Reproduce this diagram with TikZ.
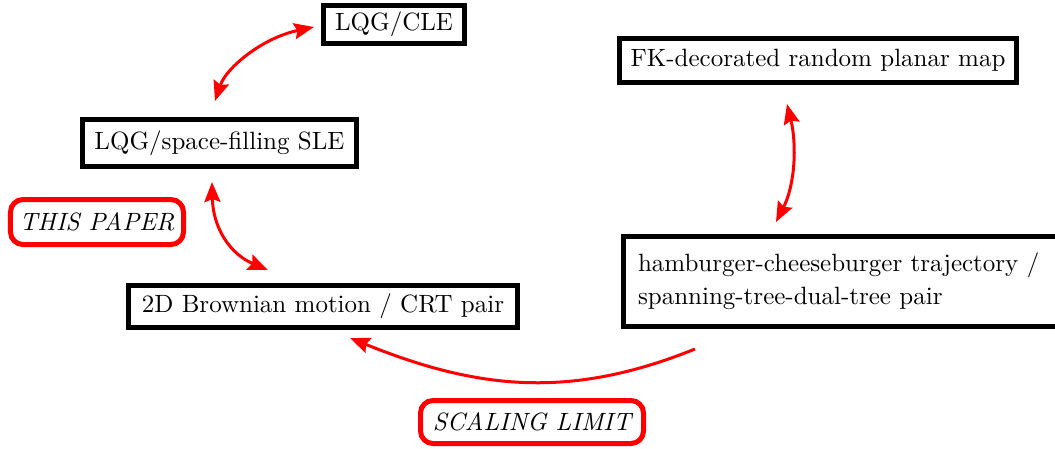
\documentclass[tikz,border=0pt]{standalone}
\usetikzlibrary{arrows.meta}
\begin{document}
\begin{tikzpicture}[x=0.4pt,y=-0.4pt,
  blackbox/.style={draw=black,line width=2pt,inner sep=2pt,rectangle},
  redbox/.style={draw=red,line width=2pt,rounded corners=5pt,inner sep=2pt,font=\itshape},
  redtip/.tip={Stealth[length=8pt,width=6.4pt,inset=1.2pt]},
  redarrow/.style={draw=red,line width=1.2pt,-redtip},
  biarrow/.style={draw=red,line width=1.2pt,redtip-redtip}]
\useasboundingbox (0,0) rectangle (1055,448);
\node[blackbox,minimum width=56.4pt,minimum height=15.2pt] (cle) at (394,24.5) {LQG/CLE};
\node[blackbox,minimum width=109.6pt,minimum height=18.8pt] (sle) at (219.5,143) {LQG/space-filling SLE};
\node[blackbox,minimum width=155.6pt,minimum height=16.8pt] (bm) at (323,306.5) {2D Brownian motion / CRT pair};
\node[blackbox,minimum width=158.8pt,minimum height=17.6pt] (fk) at (818,60.5) {FK-decorated random planar map};
\node[blackbox,anchor=west,inner xsep=5.8pt,minimum height=36pt,text width=165.2pt,align=left] (hc) at (621,281.5)
  {hamburger-cheeseburger trajectory /\\[1.2pt]spanning-tree-dual-tree pair};
\node[redbox,minimum width=69.2pt,minimum height=18pt] (tp) at (97,222) {THIS PAPER};
\node[redbox,minimum width=89.2pt,minimum height=17.2pt] (sl) at (532,422) {SCALING LIMIT};
\coordinate (a1s) at (314,27);
\coordinate (a1e) at (215,101);
\coordinate (a2s) at (212,182);
\coordinate (a2e) at (268,270);
\coordinate (a3s) at (787,104);
\coordinate (a3e) at (776,222);
\coordinate (a4s) at (695,349);
\coordinate (a4e) at (350,338);
\draw[biarrow] (a1s) .. controls (262,38) and (226,68) .. (a1e);
\draw[biarrow] (a2s) .. controls (213,228) and (230,254) .. (a2e);
\draw[biarrow] (a3s) .. controls (797,145) and (795,185) .. (a3e);
\draw[redarrow] (a4s) .. controls (569,400) and (476,389) .. (a4e);
\end{tikzpicture}
\end{document}
